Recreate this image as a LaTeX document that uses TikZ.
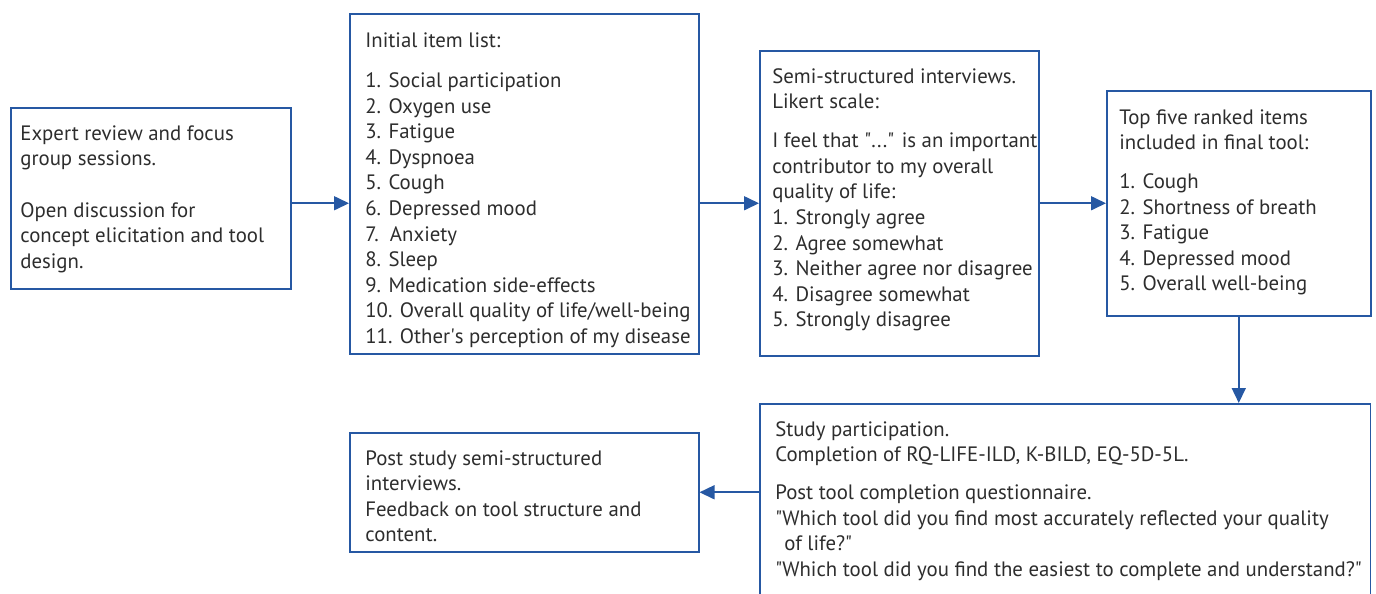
\documentclass[tikz,border=0pt]{standalone}
\usepackage{fontspec}
\setmainfont{PT Sans}
\usetikzlibrary{arrows.meta}
\definecolor{boxblue}{RGB}{38,88,163}
\definecolor{txtgray}{RGB}{45,45,45}
\newcommand{\dq}{\textquotedbl}
\tikzset{
    stagebox/.style={draw=boxblue, line width=0.9pt, rectangle, anchor=north west, inner sep=0pt},
    stagetext/.style={anchor=north west, inner sep=0pt, align=left, text=txtgray,
        font=\fontsize{11.85pt}{14.55pt}\selectfont},
    flowarrow/.style={draw=boxblue, line width=0.9pt, -{Triangle[length=0.3cm, width=0.28cm]}}
}
\begin{document}
\begin{tikzpicture}[x=0.02cm, y=-0.02cm]
    \useasboundingbox (0,0) rectangle (1376,594);
    %   Boxes of the flow
    \node[stagebox, minimum width=5.6cm, minimum height=3.62cm] (expert) at (10,107) {};
    \node[stagebox, minimum width=6.98cm, minimum height=6.8cm] (itemlist) at (349,13) {};
    \node[stagebox, minimum width=5.58cm, minimum height=6.1cm] (likert) at (759,50) {};
    \node[stagebox, minimum width=5.28cm, minimum height=4.5cm] (topfive) at (1106,90) {};
    \node[stagebox, minimum width=12.22cm, minimum height=4.1cm] (study) at (759,403) {};
    \node[stagebox, minimum width=6.98cm, minimum height=2.38cm] (poststudy) at (349,432) {};
    %   Texts inside the boxes
    \node[stagetext] (experttext) at ([shift={(0.2cm,-0.36cm)}]expert.north west)
        {Expert review and focus\\ group sessions.\\[0.52cm]
         Open discussion for\\ concept elicitation and tool\\ design.};
    \node[stagetext] (itemlisttext) at ([shift={(0.32cm,-0.38cm)}]itemlist.north west)
        {Initial item list:\\[0.3cm]
         1. Social participation\\ 2. Oxygen use\\ 3. Fatigue\\ 4. Dyspnoea\\ 5. Cough\\
         6. Depressed mood\\ 7.\ \ Anxiety\\ 8. Sleep\\ 9. Medication side-effects\\
         10. Overall quality of life/well-being\\ 11. Other\textquotesingle s perception of my disease};
    \node[stagetext] (likerttext) at ([shift={(0.26cm,-0.36cm)}]likert.north west)
        {Semi-structured interviews.\\ Likert scale:\\[0.27cm]
         I feel that \dq...\dq{} is an important\\ contributor to my overall\\ quality of life:\\
         1. Strongly agree\\ 2. Agree somewhat\\ 3. Neither agree nor disagree\\
         4. Disagree somewhat\\ 5. Strongly disagree};
    \node[stagetext] (topfivetext) at ([shift={(0.26cm,-0.38cm)}]topfive.north west)
        {Top five ranked items\\ included in final tool:\\[0.27cm]
         1. Cough\\ 2. Shortness of breath\\ 3. Fatigue\\ 4. Depressed mood\\ 5. Overall well-being};
    \node[stagetext] (studytext) at ([shift={(0.32cm,-0.36cm)}]study.north west)
        {Study participation.\\ Completion of RQ-LIFE-ILD, K-BILD, EQ-5D-5L.\\[0.25cm]
         Post tool completion questionnaire.\\
         \dq{}Which tool did you find most accurately reflected your quality\\
         \hspace{0.18cm}of life?\dq\\
         \dq{}Which tool did you find the easiest to complete and understand?\dq};
    \node[stagetext] (poststudytext) at ([shift={(0.32cm,-0.36cm)}]poststudy.north west)
        {Post study semi-structured\\ interviews.\\ Feedback on tool structure and\\ content.};
    %   Arrows
    \draw[flowarrow] (expert.east |- likert.west) -- (itemlist.west |- likert.west);
    \draw[flowarrow] (itemlist.east |- likert.west) -- (likert.west);
    \draw[flowarrow] (likert.east) -- (topfive.west |- likert.east);
    \draw[flowarrow] (topfive.south) -- (topfive.south |- study.north);
    \draw[flowarrow] (study.west |- poststudy.east) -- (poststudy.east);
\end{tikzpicture}
\end{document}
